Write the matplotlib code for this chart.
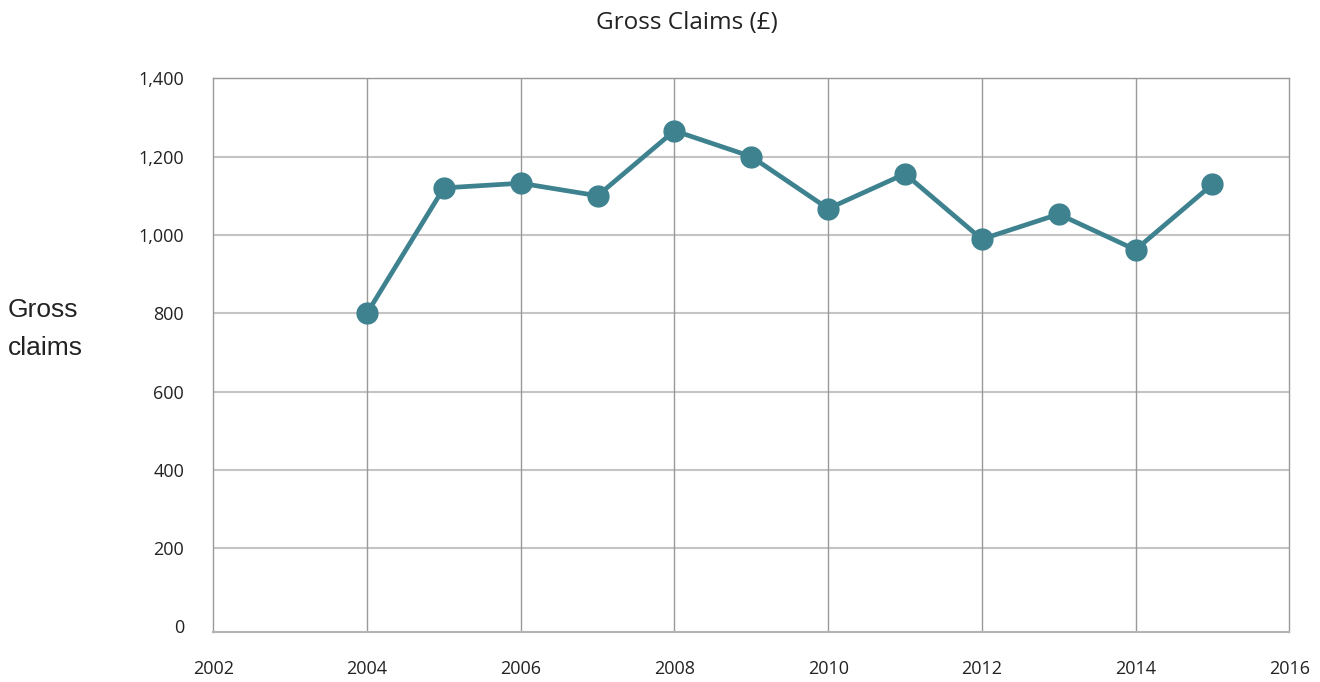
import matplotlib.pyplot as plt

years = [2004, 2005, 2006, 2007, 2008, 2009, 2010, 2011, 2012, 2013, 2014, 2015]
claims = [800, 1120, 1132, 1100, 1266, 1200, 1067, 1156, 989, 1053, 962, 1129]
x_ticks = [2002, 2004, 2006, 2008, 2010, 2012, 2014, 2016]
y_ticks = [0, 200, 400, 600, 800, 1000, 1200, 1400]

plt.rcParams["font.family"] = ["Open Sans", "DejaVu Sans"]

fig = plt.figure(figsize=(13.2, 6.82), dpi=100)
ax = fig.add_axes([0.1616, 0.0729, 0.8151, 0.8123])

line_color = "#3e8290"
ax.plot(years, claims, color=line_color, linewidth=3.4, marker="o",
        markersize=15, solid_capstyle="round", zorder=3)

ax.set_xlim(2002, 2016)
ax.set_ylim(-15, 1400)
ax.set_xticks(x_ticks)
ax.set_yticks(y_ticks)
ax.set_yticklabels([f"{v:,}" for v in y_ticks])
ax.tick_params(length=0, labelsize=13, colors="#222222")
ax.tick_params(axis="x", pad=20)
ax.tick_params(axis="y", pad=21)

for v in y_ticks[1:]:
    ax.axhline(v, color="#c4c4c4", linewidth=1.5, zorder=1)
for v in x_ticks[1:-1]:
    ax.axvline(v, color="#999999", linewidth=1.0, zorder=1)

for side in ["left", "top", "right"]:
    ax.spines[side].set_color("#999999")
    ax.spines[side].set_linewidth(1.0)
ax.spines["bottom"].set_color("#b4b4b4")
ax.spines["bottom"].set_linewidth(1.5)

fig.text(0.52, 0.967, "Gross Claims (£)", ha="center", va="center",
         fontsize=17.5, color="#222222")
fig.text(0.006, 0.5176, "Gross\nclaims", ha="left", va="center",
         fontsize=19, family="Liberation Sans", color="#222222", linespacing=1.74)

fig.savefig("out.png", dpi=100)
